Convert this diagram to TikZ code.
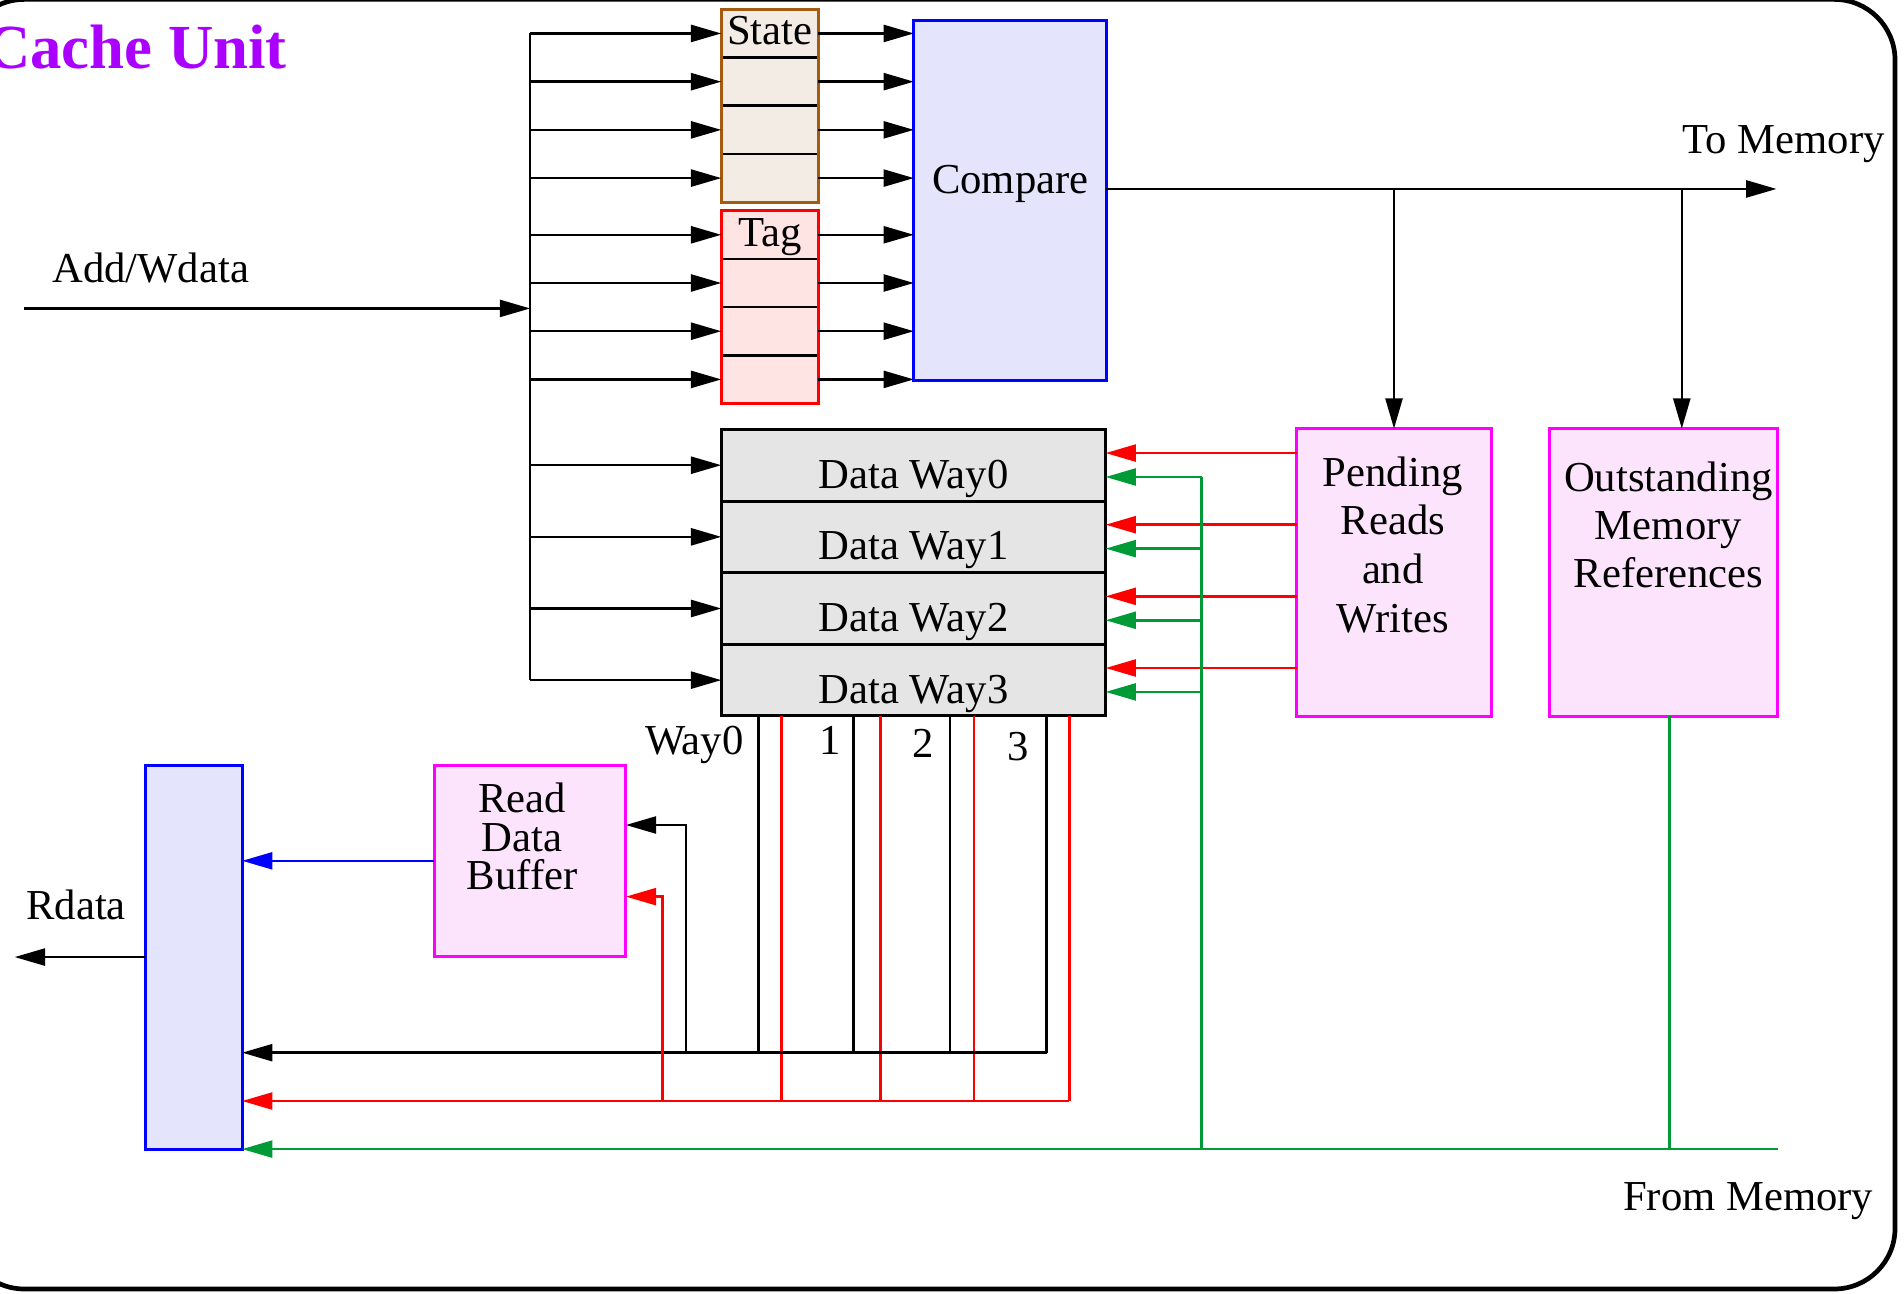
\documentclass[tikz,border=0pt]{standalone}
\usepackage{fontspec}
\setmainfont{Liberation Serif}
\usepackage{tikz}
\usetikzlibrary{arrows.meta,positioning,fit}

\definecolor{titlepurple}{RGB}{170,0,255}
\definecolor{brownline}{RGB}{165,90,15}
\definecolor{statefill}{RGB}{243,236,228}
\definecolor{tagfill}{RGB}{255,228,228}
\definecolor{cmpfill}{RGB}{228,228,252}
\definecolor{datafill}{RGB}{229,229,229}
\definecolor{pinkfill}{RGB}{253,228,253}
\definecolor{pinkline}{RGB}{255,0,255}
\definecolor{wiregreen}{RGB}{0,155,55}

\begin{document}
\begin{tikzpicture}[
  cell/.style={inner sep=0pt, outer sep=0pt, minimum width=0.8cm, minimum height=0.397cm,
    text height=0.293cm, text depth=0.104cm},
  wayrow/.style={draw, line width=0.7pt, fill=datafill, inner sep=0pt, outer sep=0pt,
    minimum width=3.165cm, minimum height=0.59cm, text height=0.484cm, text depth=0.106cm},
  unit/.style={draw, line width=0.7pt, inner sep=0pt, outer sep=0pt},
  pbox/.style={unit, draw=pinkline, fill=pinkfill},
  wire/.style={line width=0.6pt},
  arrow/.style={wire, -{Triangle[length=2.5mm, width=1.4mm]}},
  note/.style={inner sep=0pt, align=center}
]
\useasboundingbox (0,0) rectangle (15.68,-10.65);
\draw[line width=1.1pt, rounded corners=0.5cm] (-0.3,0.005) rectangle (15.606,-10.615);
\node[note, anchor=base west, font=\fontsize{14.7}{17}\selectfont\bfseries, text=titlepurple] (title) at (-0.13,-0.563) {Cache Unit};

% state and tag arrays
\node[cell, fill=statefill] (st1) at (6.34,-0.2755) {State};
\foreach \i [count=\j from 2] in {1,2,3}
  \node[cell, fill=statefill, below=0pt of st\i] (st\j) {};
\node[cell, fill=tagfill] (tg1) at (6.34,-1.9335) {Tag};
\foreach \i [count=\j from 2] in {1,2,3}
  \node[cell, fill=tagfill, below=0pt of tg\i] (tg\j) {};
\foreach \i in {1,2,3} {
  \draw[wire] (st\i.south west) -- (st\i.south east);
  \draw[wire] (tg\i.south west) -- (tg\i.south east);
}
\node[fit=(st1)(st4), draw=brownline, line width=0.7pt, inner sep=0pt] (state) {};
\node[fit=(tg1)(tg4), draw=red, line width=0.7pt, inner sep=0pt] (tag) {};

\node[unit, draw=blue, fill=cmpfill, minimum width=1.584cm, minimum height=2.965cm] (cmp) at (8.318,-1.6525) {};
\node[note, anchor=base] (cmptxt) at (8.32,-1.59) {Compare};

% data ways
\node[wayrow] (dw0) at (7.5225,-3.831) {Data Way0};
\foreach \i [count=\j from 1] in {0,1,2}
  \node[wayrow, below=0pt of dw\i] (dw\j) {Data Way\j};

% address bus
\coordinate (bus) at (4.366,-0.2755);
\draw[wire] (bus) -- (bus |- dw3.west);
\coordinate (addin) at (0.20,-2.54);
\draw[arrow] (addin) -- (addin -| bus);
\node[note, anchor=base west] (addlbl) at (0.424,-2.33) {Add/Wdata};
\foreach \c in {st1,st2,st3,st4,tg1,tg2,tg3,tg4} {
  \draw[arrow] (bus |- \c.west) -- (\c.west);
  \draw[arrow] (\c.east) -- (\c.east -| cmp.west);
}
\foreach \i in {0,...,3}
  \draw[arrow] (bus |- dw\i.west) -- (dw\i.west);

% miss handling
\node[pbox, minimum width=1.60cm, minimum height=2.37cm] (pend) at (11.48,-4.715) {};
\node[pbox, minimum width=1.88cm, minimum height=2.37cm] (outs) at (13.70,-4.715) {};
\node[note, anchor=north, font=\fontsize{10}{11.4}\selectfont] (pendtxt) at ([xshift=-0.01cm, yshift=-0.224cm]pend.north) {Pending\\Reads\\and\\Writes};
\node[note, anchor=north, font=\fontsize{10}{11.2}\selectfont] (outstxt) at ([xshift=0.04cm, yshift=-0.27cm]outs.north) {Outstanding\\Memory\\References};

\coordinate (tomem) at (14.63,-1.556);
\coordinate (obr) at (13.85,-1.556);
\draw[arrow] (cmp.east |- tomem) -- (tomem);
\draw[arrow] (pend.north |- tomem) -- (pend.north);
\draw[arrow] (obr) -- (obr |- outs.north);
\node[note, anchor=base west] (tolbl) at (13.85,-1.26) {To Memory};

% read side
\node[unit, draw=blue, fill=cmpfill, minimum width=0.798cm, minimum height=3.163cm] (mux) at (1.595,-7.8815) {};
\node[pbox, minimum width=1.577cm, minimum height=1.578cm] (rdb) at (4.3655,-7.089) {};
\node[note, anchor=north, font=\fontsize{10}{9}\selectfont] (rdbtxt) at ([xshift=-0.065cm, yshift=-0.144cm]rdb.north) {Read\\Data\\Buffer};
\coordinate (rdout) at (0.121,-7.88);
\draw[arrow] (mux.west) -- (mux.west -| rdout);
\node[note, anchor=base west] (rdlbl) at (0.21,-7.576) {Rdata};
\draw[arrow, blue] (rdb.west) -- (rdb.west -| mux.east);

% fill and hit paths
\foreach \i in {0,...,3} {
  \coordinate (rd\i) at ([yshift=0.1cm]dw\i.east);
  \coordinate (gn\i) at ([yshift=-0.097cm]dw\i.east);
}
\coordinate (gv) at (9.895,-9.463);
\foreach \i in {0,...,3} {
  \draw[arrow, red] (pend.west |- rd\i) -- (rd\i);
  \draw[arrow, wiregreen] (gv |- gn\i) -- (gn\i);
}
\draw[wire, wiregreen] (gv |- gn0) -- (gv);
\coordinate (frommem) at (14.64,-9.463);
\coordinate (otap) at (13.75,-9.463);
\draw[arrow, wiregreen] (frommem) -- (frommem -| mux.east);
\draw[wire, wiregreen] (otap |- outs.south) -- (otap);
\node[note, anchor=base west] (fromlbl) at (13.36,-9.97) {From Memory};

\coordinate (kbus) at (8.62,-8.669);
\coordinate (rbus) at (8.806,-9.067);
\foreach \x in {6.245,7.028,7.823,8.62}
  \draw[wire] (\x,0 |- dw3.south) -- (\x,0 |- kbus);
\foreach \x in {6.437,7.253,8.021,8.806}
  \draw[wire, red] (\x,0 |- dw3.south) -- (\x,0 |- rbus);
\draw[arrow] (kbus) -- (kbus -| mux.east);
\draw[arrow, red] (rbus) -- (rbus -| mux.east);
\coordinate (ktap) at (5.65,-8.669);
\coordinate (rtap) at (5.456,-9.067);
\draw[arrow] (ktap) |- ([yshift=0.295cm]rdb.east);
\draw[arrow, red] (rtap) |- ([yshift=-0.295cm]rdb.east);

\node[note, anchor=base east] (w0) at (6.13,-6.215) {Way0};
\node[note, anchor=base] (w1) at (6.835,-6.215) {1};
\node[note, anchor=base] (w2) at (7.604,-6.237) {2};
\node[note, anchor=base] (w3) at (8.386,-6.259) {3};
\end{tikzpicture}
\end{document}
